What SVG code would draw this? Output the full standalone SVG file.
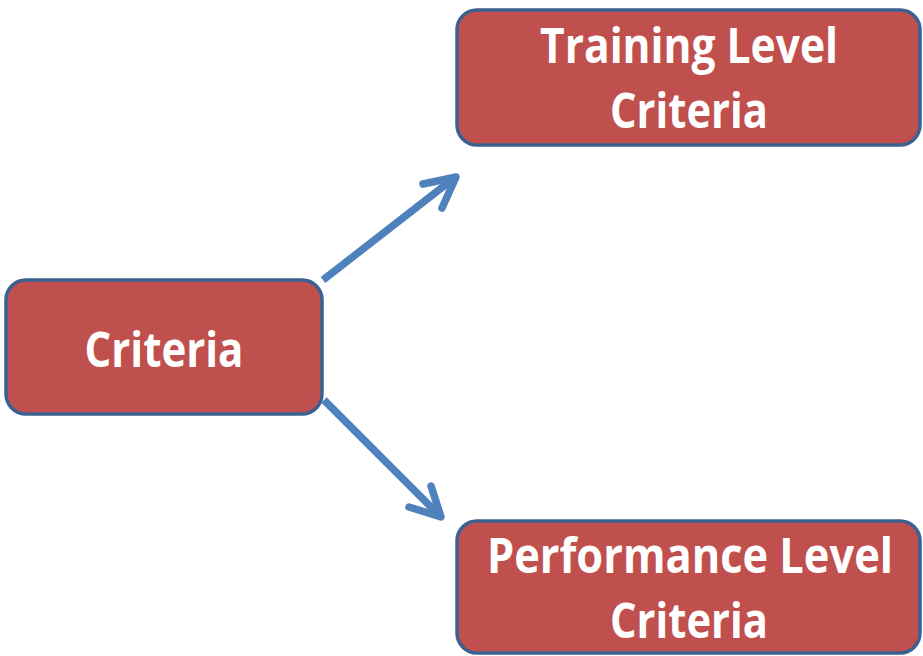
<svg xmlns="http://www.w3.org/2000/svg" width="923" height="656" viewBox="0 0 923 656">
<style>
.box{fill:#C0504D;stroke:#3B6190;stroke-width:3.5}
.lbl{font-family:"Open Sans","Liberation Sans",sans-serif;font-weight:bold;font-size:49px;fill:#FFFFFF;text-anchor:middle}
.conn{fill:none;stroke:#4F81BD;stroke-width:7.5;stroke-linecap:round;stroke-linejoin:round}
.shaft{stroke-linecap:butt}
</style>
<rect width="923" height="656" fill="#FFFFFF"/>
<g id="connectors">
<line class="conn shaft" x1="323" y1="280" x2="453" y2="179"/>
<polyline class="conn" points="423,184 456,177 442,208"/>
<line class="conn shaft" x1="324" y1="400" x2="439" y2="515"/>
<polyline class="conn" points="409,507 441,517 431,486"/>
</g>
<g id="criteria">
<rect class="box" x="6" y="280" width="316" height="134" rx="20"/>
<text class="lbl" x="164" y="367" textLength="159" lengthAdjust="spacingAndGlyphs">Criteria</text>
</g>
<g id="training">
<rect class="box" x="457" y="10" width="463" height="135" rx="20"/>
<text class="lbl" x="689" y="63" textLength="298" lengthAdjust="spacingAndGlyphs">Training Level</text>
<text class="lbl" x="689" y="128" textLength="158" lengthAdjust="spacingAndGlyphs">Criteria</text>
</g>
<g id="performance">
<rect class="box" x="457" y="521" width="463" height="132" rx="20"/>
<text class="lbl" x="690" y="573" textLength="406" lengthAdjust="spacingAndGlyphs">Performance Level</text>
<text class="lbl" x="689" y="638" textLength="158" lengthAdjust="spacingAndGlyphs">Criteria</text>
</g>
</svg>
